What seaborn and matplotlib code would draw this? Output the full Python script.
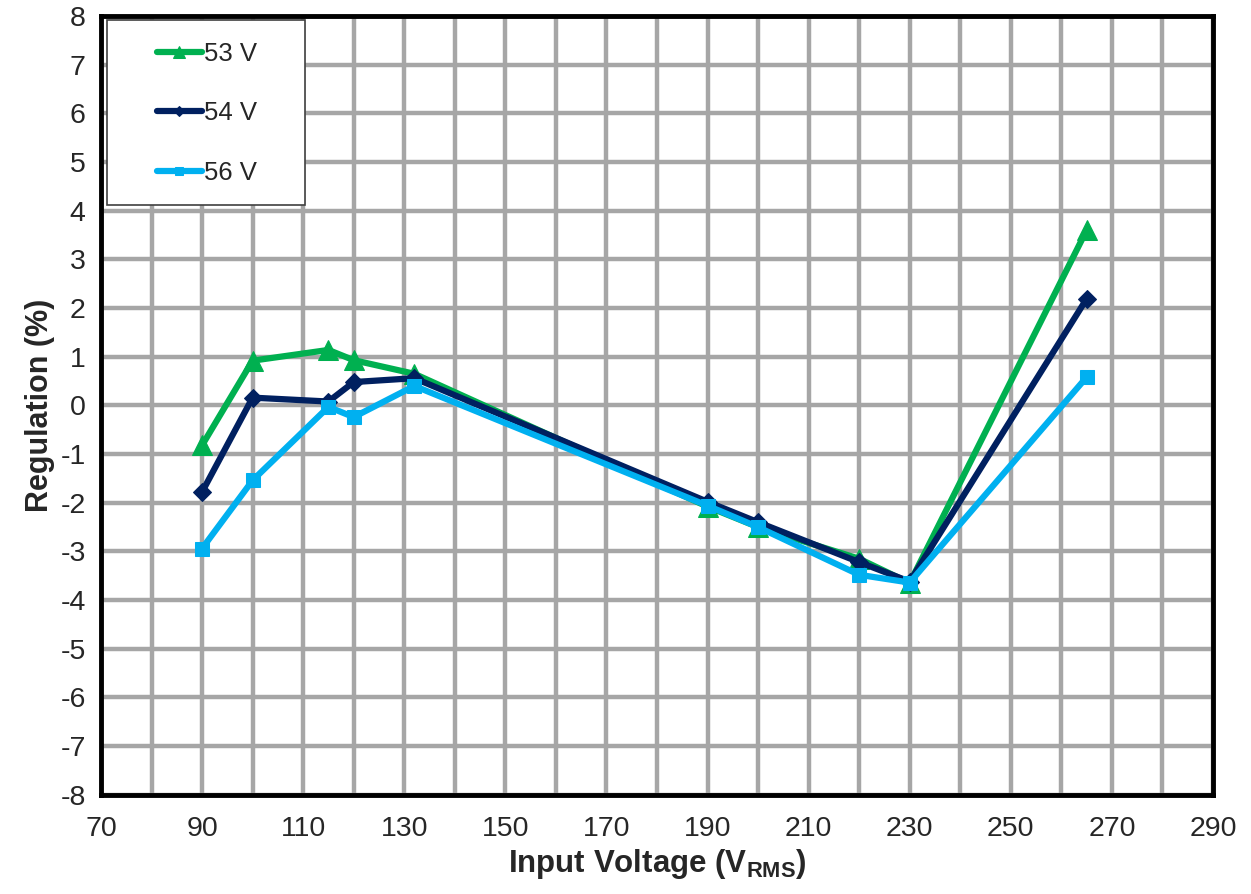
import matplotlib
matplotlib.use('Agg')
import matplotlib.pyplot as plt
from matplotlib.patches import Rectangle
from matplotlib.ticker import MultipleLocator
import seaborn as sns
import pandas as pd

input_voltage = [90, 100, 115, 120, 132, 190, 200, 220, 230, 265]
reg_53v = [-0.82, 0.92, 1.14, 0.93, 0.65, -2.08, -2.50, -3.15, -3.65, 3.60]
reg_54v = [-1.78, 0.16, 0.08, 0.48, 0.56, -1.98, -2.40, -3.22, -3.62, 2.19]
reg_56v = [-2.94, -1.54, -0.03, -0.24, 0.40, -2.06, -2.50, -3.48, -3.64, 0.58]

series_names = ['53 V', '54 V', '56 V']
series_values = [reg_53v, reg_54v, reg_56v]
colors = ['#00B050', '#002060', '#00B0F0']
markers = ['^', 'D', 's']
marker_sizes = [15, 9, 10.5]
x_ticks = list(range(70, 291, 20))

sns.set_style('white')
plt.rcParams['font.family'] = ['Liberation Sans', 'DejaVu Sans']
plt.rcParams['axes.unicode_minus'] = False
plt.rcParams['mathtext.fontset'] = 'custom'
plt.rcParams['mathtext.rm'] = 'Liberation Sans'
plt.rcParams['mathtext.bf'] = 'Liberation Sans:bold'

fig, ax = plt.subplots(figsize=(12.51, 8.94), dpi=100)
fig.subplots_adjust(left=0.0807, right=0.9696, top=0.982, bottom=0.111)

for name, vals, col, mk, ms in zip(series_names, series_values, colors, markers, marker_sizes):
    df = pd.DataFrame({'Input Voltage': input_voltage, 'Regulation': vals})
    sns.lineplot(data=df, x='Input Voltage', y='Regulation', ax=ax, color=col,
                 marker=mk, markersize=ms, markeredgecolor=col, linewidth=4.5,
                 label=name, zorder=3)

ax.set_xlim(70, 290)
ax.set_ylim(-8, 8)
ax.set_xticks(x_ticks)
ax.xaxis.set_minor_locator(MultipleLocator(10))
ax.yaxis.set_major_locator(MultipleLocator(1))
ax.grid(True, which='both', color='#A6A6A6', linewidth=3.2)
ax.set_axisbelow(True)
ax.tick_params(which='major', direction='out', length=5, width=3, labelsize=20.5, pad=10, color='black')
ax.tick_params(axis='y', pad=6)
ax.tick_params(which='minor', length=0)
for sp in ax.spines.values():
    sp.set_visible(True)
    sp.set_color('black')
    sp.set_linewidth(3.5)

ax.set_xlabel('Input Voltage (V$_{\\mathbf{RMS}}$)', fontsize=22.5, fontweight='bold', labelpad=4)
ax.set_ylabel('Regulation (%)', fontsize=22, fontweight='bold', labelpad=4)

# legend box
ax.add_patch(Rectangle((0.0054, 0.757), 0.178, 0.2375, transform=ax.transAxes,
                       facecolor='white', edgecolor='#404040', linewidth=1.2, zorder=4))
ax.legend(loc='upper left', bbox_to_anchor=(0.05, 0.967), frameon=False, fontsize=18.5,
          borderaxespad=0, borderpad=0, labelspacing=1.38, handlelength=1.75,
          handletextpad=0.1, markerscale=0.6)

fig.savefig('out.png', dpi=100)
